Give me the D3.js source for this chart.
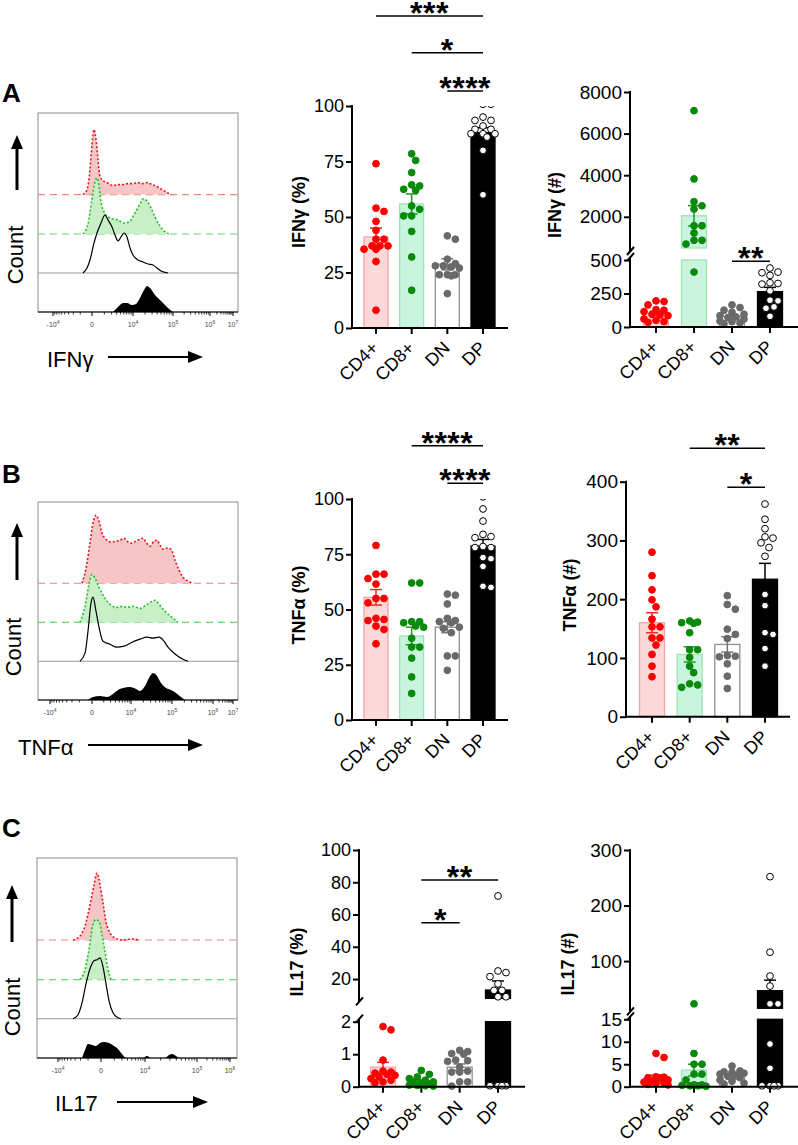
<!DOCTYPE html>
<html><head><meta charset="utf-8">
<script src="https://cdn.jsdelivr.net/npm/d3@7"></script>
<style>
body{margin:0;background:#fff}
#wrap{position:relative;width:798px;height:1145px}
svg{display:block}
.xl{position:absolute;white-space:nowrap;font-family:"Liberation Sans",Arial,sans-serif;font-size:18px;line-height:18px;color:#000;transform:rotate(-45deg);transform-origin:100% 15.2px}
</style>
</head><body><div id="wrap"></div>
<script>
// ---------------- DATA ----------------
const categories = ["CD4+", "CD8+", "DN", "DP"];

// IFNγ %
const ifngPctValues = [
  [74, 54, 52.5, 48, 44, 40, 40, 37, 37, 37, 35.5, 35.5, 30, 8],
  [78.5, 75.5, 70, 64.5, 64, 62.5, 62, 55, 53.5, 50.5, 50.5, 43.5, 32, 17],
  [41.5, 40, 31, 29, 28, 28, 27.5, 27, 24, 24, 24, 23.5, 15.5],
  [100.8, 100.8, 95, 93.5, 93.5, 91, 89.5, 89.5, 87.5, 87.5, 87.5, 86, 80, 60]
];
const ifngPctMean = [41, 55.9, 28.7, 88];
const ifngPctSem = [4, 4.5, 2.5, 2.2];
const ifngPctTicks = [0, 25, 50, 75, 100];
const ifngPctSig = [["CD4+", "DP", "***", 140.5], ["CD8+", "DP", "*", 124], ["DN", "DP", "****", 106.8]];

// IFNγ #
const ifngNumValues = [
  [195, 190, 165, 130, 125, 115, 95, 90, 85, 60, 50, 40, 35],
  [7100, 3820, 2730, 2530, 2370, 1570, 1570, 1220, 870, 870, 690, 410],
  [165, 145, 125, 110, 95, 85, 75, 70, 60, 45, 40, 30, 25],
  [440, 410, 405, 385, 330, 325, 320, 270, 200, 195, 150, 140, 80]
];
const ifngNumMean = [102, 2050, 80, 264];
const ifngNumSem = [15, 490, 12, 32];
const ifngNumTicksLow = [0, 250, 500];
const ifngNumTicksHigh = [2000, 4000, 6000, 8000];
const ifngNumSig = [["DN", "DP", "**", 490]];

// TNFα %
const tnfPctValues = [
  [79, 66, 66, 64, 61.5, 55, 55, 53, 46, 45.5, 45, 42.5, 41, 34.5],
  [62, 62, 44.5, 44, 44.5, 42.5, 42, 37, 33, 33, 28, 19.5, 12],
  [57, 56.5, 52.5, 46, 45, 44.5, 44, 42, 41.5, 39.5, 29, 29, 22.5],
  [101, 95.5, 90, 84, 83, 82.5, 78.5, 78, 78, 73.5, 73, 69.5, 60.5, 60]
];
const tnfPctMean = [55.5, 38, 42, 78.7];
const tnfPctSem = [3.5, 4, 2.5, 3];
const tnfPctTicks = [0, 25, 50, 75, 100];
const tnfPctSig = [["CD8+", "DP", "****", 124.1], ["DN", "DP", "****", 107.1]];

// TNFα #
const tnfNumValues = [
  [280, 240, 216, 199, 187, 166, 153, 153, 134, 134, 122, 106, 86, 68],
  [163, 161, 160, 159, 143, 114, 114, 101, 86, 75, 56, 54, 50],
  [206, 191, 183, 149, 140, 133, 104, 103, 102, 90, 69, 48],
  [362, 336, 320, 306, 304, 296, 288, 273, 208, 189, 143, 140, 116, 86]
];
const tnfNumMean = [160, 106, 123, 234];
const tnfNumSem = [17, 13, 13, 27];
const tnfNumTicks = [0, 100, 200, 300, 400];
const tnfNumSig = [["CD8+", "DP", "**", 457], ["DN", "DP", "*", 390.5]];

// IL17 %
const il17PctValues = [
  [1.85, 1.75, 0.82, 0.48, 0.45, 0.42, 0.38, 0.35, 0.3, 0.25, 0.2, 0.15, 0.12],
  [0.5, 0.38, 0.3, 0.25, 0.2, 0.15, 0.15, 0.12, 0.08, 0.05, 0.04, 0.03, 0.02],
  [1.12, 1.08, 1.02, 1.0, 0.82, 0.8, 0.78, 0.6, 0.48, 0.45, 0.45, 0.15, 0.15, 0.02],
  [71.5, 25, 24, 21.5, 17, 13, 13, 9, 9, 0.03, 0.03, 0.03, 0.03]
];
const il17PctMean = [0.6, 0.15, 0.6, 13.2];
const il17PctSem = [0.15, 0.05, 0.1, 5.6];
const il17PctTicksLow = [0, 1, 2];
const il17PctTicksHigh = [20, 40, 60, 80, 100];
const il17PctSig = [["CD8+", "DP", "**", 81.4], ["CD8+", "DN", "*", 54.9]];

// IL17 #
const il17NumValues = [
  [7.4, 6.5, 2.2, 2.1, 2.0, 1.9, 1.5, 1.2, 1.0, 0.8, 0.7, 0.5, 0.4],
  [23, 7.4, 5, 5, 2.8, 2.8, 1.5, 0.4, 0.4, 0.3, 0.2, 0.2, 0.1],
  [4.6, 3.5, 3.3, 3.2, 3.0, 2.8, 2.5, 2.3, 2.0, 1.5, 1.2, 0.8, 0.6],
  [252, 116, 73, 55, 23, 23, 9.5, 4.1, 0.2, 0.2, 0.2, 0.2]
];
const il17NumMean = [1.87, 3.7, 2.1, 46.7];
const il17NumSem = [0.7, 1.3, 0.35, 19];
const il17NumTicksLow = [0, 5, 10, 15];
const il17NumTicksHigh = [100, 200, 300];

// Flow histograms: [channel (0-200), relative count]
const ifngHistCD4 = [[45,0],[49,5],[52,25],[54,50],[56,65],[58,55],[60,35],[62,18],[65,14],[69,12],[75,9],[80,10],[85,10],[90,11],[95,11],[100,12],[105,11],[109,12],[114,10],[119,8],[124,5],[129,2],[133,0]];
const ifngHistCD8 = [[45,0],[50,10],[54,35],[57,52],[59,56],[61,48],[63,32],[66,22],[72,16],[80,14],[86,11],[91,12],[97,21],[102,30],[105,35],[109,33],[113,26],[117,17],[122,8],[127,2],[132,0]];
const ifngHistDN = [[45,0],[49,5],[52,13],[56,30],[59,40],[63,50],[67,58],[70,53],[74,46],[77,38],[80,32],[83,36],[86,40],[89,36],[92,25],[95,18],[100,13],[105,11],[110,9],[115,8],[119,5],[123,2],[130,0]];
const ifngHistDP = [[75,0],[80,5],[85,9],[89,9],[94,7],[98,8],[102,14],[106,22],[109,26],[112,24],[117,17],[122,12],[127,7],[131,3],[135,0]];

const tnfHistCD4 = [[44,0],[48,15],[52,40],[55,60],[58,68],[61,62],[64,50],[68,44],[73,41],[78,42],[82,43],[86,45],[89,42],[93,40],[98,42],[102,44],[105,45],[108,41],[112,37],[116,42],[119,43],[122,38],[125,34],[129,35],[133,34],[137,23],[141,13],[145,6],[150,2],[155,0]];
const tnfHistCD8 = [[42,0],[47,16],[51,38],[54,48],[57,44],[62,33],[67,24],[72,18],[79,15],[84,16],[89,15],[95,16],[102,14],[109,18],[117,22],[122,17],[127,11],[134,5],[140,0]];
const tnfHistDN = [[42,0],[47,8],[50,30],[53,58],[55,64],[58,50],[61,34],[65,20],[72,17],[79,14],[86,15],[94,19],[102,22],[109,24],[115,23],[121,24],[126,20],[130,14],[135,9],[140,5],[145,2],[150,0]];
const tnfHistDP = [[50,0],[55,3],[62,4],[69,3],[75,6],[80,10],[85,12],[92,13],[98,11],[102,9],[107,14],[111,22],[115,27],[119,24],[123,17],[128,12],[133,10],[138,7],[143,3],[147,0]];

const il17HistCD4 = [[36,0],[43,4],[48,14],[53,35],[57,55],[60,67],[63,55],[66,37],[69,18],[73,7],[78,2],[85,0],[96,1],[101,0]];
const il17HistCD8 = [[43,0],[48,10],[52,30],[56,55],[59,60],[62,58],[65,45],[68,28],[71,10],[74,0]];
const il17HistDN = [[36,0],[41,4],[45,16],[49,35],[53,50],[57,58],[60,59],[63,61],[66,52],[69,35],[72,18],[76,6],[81,1],[84,0]];
const il17HistDP = [[45,0],[48,8],[51,14],[55,13],[59,12],[63,15],[67,16],[72,15],[77,12],[81,9],[85,4],[89,0],[106,0],[110,2],[114,0],[128,0],[132,3],[135,4],[139,2],[142,0]];

const histTickLabelsAB = ["-10^4", "0", "10^4", "10^5", "10^6", "10^7"];
const histTickLabelsC = ["-10^4", "0", "10^4", "10^5", "10^6"];
const ifngHistTicks = [15, 54, 95, 135, 172, 195];
const tnfHistTicks = [12, 54, 93, 134, 175, 195];
const il17HistTicks = [21, 64, 108, 160, 193];

// ---------------- DRAWING ----------------
const FONT = '"Liberation Sans", Arial, Helvetica, sans-serif';
const wrap = d3.select("#wrap");
const svg = wrap.append("svg").attr("width", 798).attr("height", 1145)
  .style("font-family", FONT);

const catStyle = {
  "CD4+": {fill: "#fdd8d8", stroke: "#f2a4a4", pt: "#ff0000", ptStroke: "#ff0000", err: "#ee2a2a"},
  "CD8+": {fill: "#c9f4de", stroke: "#9fe3b2", pt: "#0a8a0a", ptStroke: "#0a8a0a", err: "#1f9a1f"},
  "DN":   {fill: "#ffffff", stroke: "#8f8f8f", pt: "#6a6a6a", ptStroke: "#6a6a6a", err: "#777777"},
  "DP":   {fill: "#000000", stroke: "#000000", pt: "#ffffff", ptStroke: "#000000", err: "#000000"}
};

let clipCount = 0;

function swarm(vals, yOf, r) {
  const pts = vals.map(v => ({v, y: yOf(v)})).sort((a, b) => a.y - b.y);
  const placed = [];
  const step = 4, minD = 2 * r + 0.3, maxOff = 13;
  for (const p of pts) {
    let chosen = null, bestOff = 0, bestScore = -1;
    for (let k = 0; k < 40; k++) {
      const off = k === 0 ? 0 : (k % 2 ? 1 : -1) * Math.ceil(k / 2) * step;
      if (Math.abs(off) > maxOff) break;
      const d = placed.length ? Math.min(...placed.map(q => Math.hypot(q.dx - off, q.y - p.y))) : Infinity;
      if (d >= minD) { chosen = off; break; }
      if (d > bestScore + 0.01) { bestScore = d; bestOff = off; }
    }
    p.dx = chosen !== null ? chosen : bestOff;
    placed.push(p);
  }
  return pts;
}

function barPanel(o) {
  const g = svg.append("g");
  const x = d3.scalePoint().domain(categories).range(o.xr);
  const segs = o.segs.map(s => ({...s, sc: d3.scaleLinear().domain(s.domain).range(s.range), clipId: "clip" + (clipCount++)}));
  const y0 = segs[0].range[0];
  const bw = o.bw || 25, r = 3.4;
  const segOf = v => { for (let i = segs.length - 1; i >= 0; i--) { if (v >= segs[i].domain[0]) return segs[i]; } return segs[0]; };

  segs.forEach(s => {
    svg.append("clipPath").attr("id", s.clipId).append("rect")
      .attr("x", o.ax - 20).attr("y", s.range[1]).attr("width", o.xEnd - o.ax + 40)
      .attr("height", s.range[0] - s.range[1] + 8);
  });

  // bars
  categories.forEach((c, i) => {
    const m = o.mean[i], st = catStyle[c];
    segs.forEach(s => {
      if (m <= s.domain[0]) return;
      const t = Math.min(m, s.domain[1]);
      g.append("rect").attr("x", x(c) - bw / 2).attr("y", s.sc(t))
        .attr("width", bw).attr("height", s.sc(s.domain[0]) - s.sc(t))
        .attr("fill", st.fill).attr("stroke", st.stroke).attr("stroke-width", 1.3);
    });
  });

  // error bars
  categories.forEach((c, i) => {
    const m = o.mean[i], e = o.sem[i], st = catStyle[c];
    const s = segOf(m);
    const lo = Math.max(m - e, s.domain[0]), hi = m + e;
    const cx = x(c);
    const eg = g.append("g").attr("stroke", st.err).attr("stroke-width", 1.5).attr("fill", "none");
    eg.append("line").attr("x1", cx).attr("x2", cx).attr("y1", s.sc(lo)).attr("y2", s.sc(hi));
    eg.append("line").attr("x1", cx - 6).attr("x2", cx + 6).attr("y1", s.sc(hi)).attr("y2", s.sc(hi));
    if (m - e >= s.domain[0]) eg.append("line").attr("x1", cx - 6).attr("x2", cx + 6).attr("y1", s.sc(lo)).attr("y2", s.sc(lo));
  });

  // points
  categories.forEach((c, i) => {
    const st = catStyle[c];
    const pts = swarm(o.values[i], v => segOf(v).sc(v), r);
    pts.forEach(p => {
      const s = segOf(p.v);
      g.append("circle").attr("cx", x(c) + p.dx).attr("cy", p.y).attr("r", r)
        .attr("fill", st.pt).attr("stroke", st.ptStroke).attr("stroke-width", 1)
        .attr("clip-path", `url(#${s.clipId})`);
    });
  });

  // y axes
  segs.forEach((s, k) => {
    const ax = d3.axisLeft(s.sc).tickValues(s.ticks).tickSize(6).tickPadding(2).tickFormat(d3.format("d"));
    const ga = g.append("g").attr("transform", `translate(${o.ax},0)`).call(ax);
    ga.select(".domain").remove();
    ga.selectAll("line").attr("stroke", "#000").attr("stroke-width", 2);
    ga.selectAll("text").attr("font-size", o.tickFs).attr("font-family", FONT).attr("fill", "#000");
    const yb = s.range[0] + (k > 0 ? 3 : 1), yt = s.range[1] - (k < segs.length - 1 ? 3 : 1);
    g.append("line").attr("x1", o.ax).attr("x2", o.ax).attr("y1", yb).attr("y2", yt)
      .attr("stroke", "#000").attr("stroke-width", 2);
    if (k > 0) g.append("line").attr("x1", o.ax - 3).attr("x2", o.ax + 4).attr("y1", yb + 4).attr("y2", yb - 4)
      .attr("stroke", "#000").attr("stroke-width", 2);
    if (k < segs.length - 1) g.append("line").attr("x1", o.ax - 3).attr("x2", o.ax + 4).attr("y1", yt + 4).attr("y2", yt - 4)
      .attr("stroke", "#000").attr("stroke-width", 2);
  });

  // x axis
  g.append("line").attr("x1", o.ax - 1).attr("x2", o.xEnd).attr("y1", y0).attr("y2", y0)
    .attr("stroke", "#000").attr("stroke-width", 2);
  categories.forEach(c => {
    g.append("line").attr("x1", x(c)).attr("x2", x(c)).attr("y1", y0).attr("y2", y0 + 6)
      .attr("stroke", "#000").attr("stroke-width", 2);
    const lx = x(c) + 4, ly = y0 + 21;
    wrap.append("div").attr("class", "xl")
      .style("right", (798 - lx) + "px").style("top", (ly - 15.2) + "px").text(c);
  });

  // y label
  g.append("text").attr("transform", `translate(${o.labelX},${o.labelY}) rotate(-90)`)
    .attr("text-anchor", "middle").attr("font-size", 18).attr("font-weight", "bold").text(o.label);

  // significance
  (o.sig || []).forEach(([a, b, txt, v]) => {
    const s = segOf(v), yy = s.sc(v);
    g.append("line").attr("x1", x(a)).attr("x2", x(b)).attr("y1", yy).attr("y2", yy)
      .attr("stroke", "#000").attr("stroke-width", 1.5);
    g.append("text").attr("x", (x(a) + x(b)) / 2).attr("y", yy + 8)
      .attr("text-anchor", "middle").attr("font-size", 32).attr("font-weight", "bold")
      .attr("letter-spacing", 0.5).text(txt);
  });
}

function arrowUp(xp, yBottom, yTip) {
  svg.append("line").attr("x1", xp).attr("x2", xp).attr("y1", yBottom).attr("y2", yTip + 12)
    .attr("stroke", "#000").attr("stroke-width", 3);
  svg.append("path").attr("d", `M${xp - 6},${yTip + 14} L${xp},${yTip} L${xp + 6},${yTip + 14} Z`).attr("fill", "#000");
}
function arrowRight(x1, x2, yp) {
  svg.append("line").attr("x1", x1).attr("x2", x2 - 12).attr("y1", yp).attr("y2", yp)
    .attr("stroke", "#000").attr("stroke-width", 2.2);
  svg.append("path").attr("d", `M${x2 - 15},${yp - 6} L${x2},${yp} L${x2 - 15},${yp + 6} Z`).attr("fill", "#000");
}

function histPanel(o) {
  const g = svg.append("g");
  const x = d3.scaleLinear().domain([0, 200]).range([o.left, o.left + o.w]);
  const cnt = d3.scaleLinear().domain([0, 100]).range([0, 100]);
  const bases = [0.41, 0.608, 0.804, 1].map(f => o.top + f * o.h);

  g.append("rect").attr("x", o.left).attr("y", o.top).attr("width", o.w).attr("height", o.h)
    .attr("fill", "none").attr("stroke", "#8c8c8c").attr("stroke-width", 1);

  const styles = [
    {base: "#f08585", dash: "7,5", fill: "#f6c6c6", line: "#e8141c", ldash: "2,2"},
    {base: "#66d966", dash: "7,5", fill: "#c8efc8", line: "#22c022", ldash: "2,2"},
    {base: "#9a9a9a", dash: null, fill: null, line: "#000", ldash: null},
    {base: null, dash: null, fill: "#000", line: null, ldash: null}
  ];
  o.series.forEach((data, i) => {
    const st = styles[i], b = bases[i];
    if (st.base) {
      const bl = g.append("line").attr("x1", o.left).attr("x2", o.left + o.w).attr("y1", b).attr("y2", b)
        .attr("stroke", st.base).attr("stroke-width", 1.1);
      if (st.dash) bl.attr("stroke-dasharray", st.dash);
    }
    if (st.fill) {
      const area = d3.area().x(d => x(d[0])).y0(b).y1(d => b - cnt(d[1])).curve(d3.curveMonotoneX);
      g.append("path").attr("d", area(data)).attr("fill", st.fill);
    }
    if (st.line) {
      const line = d3.line().x(d => x(d[0])).y(d => b - cnt(d[1])).curve(d3.curveMonotoneX);
      const p = g.append("path").attr("d", line(data)).attr("fill", "none")
        .attr("stroke", st.line).attr("stroke-width", st.ldash ? 1.6 : 1.2);
      if (st.ldash) p.attr("stroke-dasharray", st.ldash);
    }
  });

  // bottom axis
  const yb = o.top + o.h;
  g.append("line").attr("x1", o.left).attr("x2", o.left + o.w).attr("y1", yb).attr("y2", yb)
    .attr("stroke", "#000").attr("stroke-width", 1);
  const tk = o.ticks;
  tk.forEach((t, i) => {
    g.append("line").attr("x1", x(t)).attr("x2", x(t)).attr("y1", yb).attr("y2", yb + 4)
      .attr("stroke", "#000").attr("stroke-width", 1);
    if (i < tk.length - 1) {
      const a = tk[i], bb = tk[i + 1];
      for (let k = 2; k <= 9; k++) {
        const f = Math.log10(k);
        const pos = i === 0 ? bb - f * (bb - a) : a + f * (bb - a);
        g.append("line").attr("x1", x(pos)).attr("x2", x(pos)).attr("y1", yb).attr("y2", yb + 2.5)
          .attr("stroke", "#000").attr("stroke-width", 0.8);
      }
    }
    const parts = o.tickLabels[i].split("^");
    const tx = g.append("text").attr("x", x(t)).attr("y", yb + 15).attr("text-anchor", "middle")
      .attr("font-size", 7).attr("fill", "#444");
    tx.append("tspan").text(parts[0]);
    if (parts[1]) tx.append("tspan").attr("dy", -3).attr("font-size", 5).text(parts[1]);
  });

  // letter, count, arrows, x label
  svg.append("text").attr("x", 2).attr("y", o.letterY).attr("font-size", 26).attr("font-weight", "bold").text(o.letter);
  arrowUp(o.arrowX, o.arrowBottom, o.arrowTip);
  svg.append("text").attr("transform", `translate(${o.countX},${o.countY}) rotate(-90)`)
    .attr("text-anchor", "middle").attr("font-size", 22).text("Count");
  svg.append("text").attr("x", o.xlabX).attr("y", o.xlabY).attr("font-size", 22).text(o.xlabel);
  arrowRight(o.arX1, o.arX2, o.arY);
}

// ---- Histograms ----
histPanel({left: 38, top: 113, w: 200, h: 199, series: [ifngHistCD4, ifngHistCD8, ifngHistDN, ifngHistDP],
  ticks: ifngHistTicks, tickLabels: histTickLabelsAB, letter: "A", letterY: 102,
  arrowX: 17, arrowBottom: 190, arrowTip: 135, countX: 23, countY: 255,
  xlabel: "IFNγ", xlabX: 47, xlabY: 367, arX1: 108, arX2: 203, arY: 357});
histPanel({left: 38, top: 502, w: 200, h: 198, series: [tnfHistCD4, tnfHistCD8, tnfHistDN, tnfHistDP],
  ticks: tnfHistTicks, tickLabels: histTickLabelsAB, letter: "B", letterY: 483,
  arrowX: 17, arrowBottom: 580, arrowTip: 523, countX: 21, countY: 647,
  xlabel: "TNFα", xlabX: 18, xlabY: 755, arX1: 88, arX2: 203, arY: 745});
histPanel({left: 37, top: 858, w: 200, h: 200, series: [il17HistCD4, il17HistCD8, il17HistDN, il17HistDP],
  ticks: il17HistTicks, tickLabels: histTickLabelsC, letter: "C", letterY: 837,
  arrowX: 12, arrowBottom: 942, arrowTip: 885, countX: 20, countY: 1007,
  xlabel: "IL17", xlabX: 55, xlabY: 1111, arX1: 117, arX2: 208, arY: 1102});

// ---- Bar charts ----
barPanel({ax: 352, xr: [376, 483], xEnd: 508, bw: 24, tickFs: 18,
  segs: [{domain: [0, 100], range: [328, 106], ticks: ifngPctTicks}],
  values: ifngPctValues, mean: ifngPctMean, sem: ifngPctSem, sig: ifngPctSig,
  label: "IFNγ (%)", labelX: 305, labelY: 212});
barPanel({ax: 630, xr: [656, 770], xEnd: 798, bw: 25, tickFs: 19,
  segs: [{domain: [0, 500], range: [327, 260], ticks: ifngNumTicksLow},
         {domain: [500, 8000], range: [248, 92], ticks: ifngNumTicksHigh}],
  values: ifngNumValues, mean: ifngNumMean, sem: ifngNumSem, sig: ifngNumSig,
  label: "IFNγ (#)", labelX: 561, labelY: 205});
barPanel({ax: 352, xr: [376, 483], xEnd: 508, bw: 24, tickFs: 18,
  segs: [{domain: [0, 100], range: [720, 499], ticks: tnfPctTicks}],
  values: tnfPctValues, mean: tnfPctMean, sem: tnfPctSem, sig: tnfPctSig,
  label: "TNFα (%)", labelX: 305, labelY: 605});
barPanel({ax: 626, xr: [652, 765], xEnd: 790, bw: 25, tickFs: 19,
  segs: [{domain: [0, 400], range: [716.7, 481.7], ticks: tnfNumTicks}],
  values: tnfNumValues, mean: tnfNumMean, sem: tnfNumSem, sig: tnfNumSig,
  label: "TNFα (#)", labelX: 576, labelY: 595});
barPanel({ax: 359, xr: [383, 498], xEnd: 525, bw: 25, tickFs: 18,
  segs: [{domain: [0, 2], range: [1086.7, 1021.7], ticks: il17PctTicksLow},
         {domain: [8, 100], range: [998.4, 850], ticks: il17PctTicksHigh}],
  values: il17PctValues, mean: il17PctMean, sem: il17PctSem, sig: il17PctSig,
  label: "IL17 (%)", labelX: 303, labelY: 962});
barPanel({ax: 630, xr: [656, 770], xEnd: 798, bw: 25, tickFs: 19,
  segs: [{domain: [0, 15], range: [1086.7, 1019.3], ticks: il17NumTicksLow},
         {domain: [15, 300], range: [1008.3, 850], ticks: il17NumTicksHigh}],
  values: il17NumValues, mean: il17NumMean, sem: il17NumSem, sig: [],
  label: "IL17 (#)", labelX: 574, labelY: 964});
</script>
</body></html>
